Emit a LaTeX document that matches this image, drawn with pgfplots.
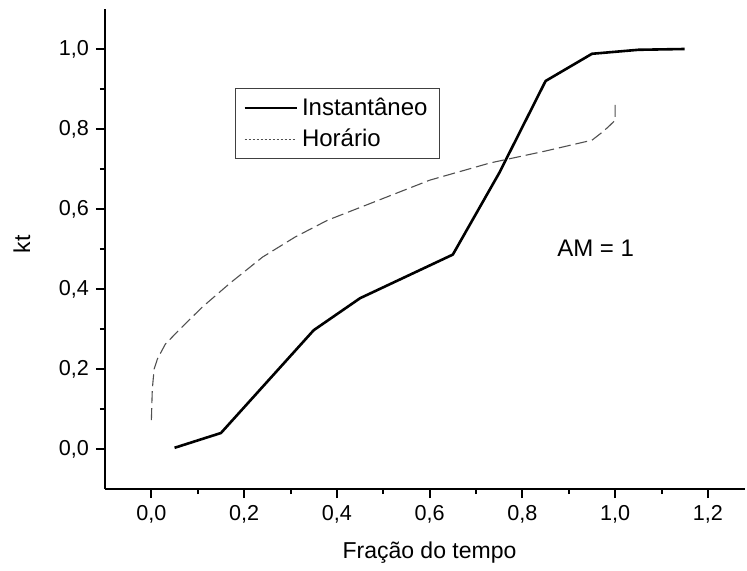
\documentclass[border=0pt]{standalone}
\usepackage{fontspec}
\setmainfont{Liberation Sans}
\usepackage{pgfplots}
\pgfplotsset{compat=1.18}

\definecolor{dashgray}{RGB}{80,80,80}

\begin{document}
\begin{tikzpicture}
\begin{axis}[
  scale only axis,
  width=320pt, height=240pt,
  xmin=-0.1, xmax=1.28,
  ymin=-0.1, ymax=1.1,
  axis x line*=bottom,
  axis y line*=left,
  axis line style={-, line width=1pt, black},
  xtick={0,0.2,0.4,0.6,0.8,1.0,1.2},
  ytick={0,0.2,0.4,0.6,0.8,1.0},
  minor x tick num=1,
  minor y tick num=1,
  tick align=outside,
  major tick length=4.5pt,
  minor tick length=2.5pt,
  every tick/.style={black, line width=1pt},
  tick label style={font=\fontsize{10.8}{13}\selectfont},
  /pgf/number format/.cd, assume math mode=true, use comma, fixed, fixed zerofill, precision=1,
  /pgfplots/.cd,
  xlabel={Fração do tempo},
  ylabel={kt},
  label style={font=\fontsize{11.5}{13}\selectfont},
  xlabel style={at={(axis description cs:0.507,-0.133)}, anchor=center},
  ylabel style={at={(axis description cs:-0.13,0.51)}, anchor=center, rotate=0},
  legend style={
    at={(axis description cs:0.203,0.835)}, anchor=north west,
    draw=black!75, line width=0.5pt,
    font=\fontsize{12}{14}\selectfont,
    inner xsep=4pt, inner ysep=2.5pt,
    row sep=1.5pt,
    cells={anchor=west},
  },
  legend image code/.code={\draw[#1] (0pt,0pt) -- (26pt,0pt);},
  clip=false,
]

% solid curve: instantaneous values
\addplot[black, line width=1.3pt, line join=round] coordinates {
  (0.05,0.003) (0.15,0.040) (0.35,0.297) (0.45,0.377) (0.65,0.486)
  (0.75,0.690) (0.85,0.920) (0.95,0.988) (1.05,0.998) (1.15,1.000)
};
\addlegendentry{Instantâneo}

% dashed curve: hourly values
\addplot[dashgray, line width=0.55pt, dash pattern=on 6pt off 2.5pt,
  legend image code/.code={\draw[dashgray, line width=0.5pt, dash pattern=on 1pt off 1pt] (0pt,0pt) -- (26pt,0pt);}]
  coordinates {
  (0.000,0.072) (0.002,0.150) (0.006,0.200) (0.013,0.225) (0.030,0.262)
  (0.060,0.298) (0.110,0.355) (0.170,0.415) (0.240,0.480) (0.310,0.530)
  (0.380,0.572) (0.490,0.622) (0.600,0.672) (0.730,0.715) (0.850,0.745)
  (0.950,0.772) (0.970,0.790) (0.985,0.805) (1.000,0.822) (1.000,0.870)
};
\addlegendentry{Horário}

\node[font=\fontsize{12}{14}\selectfont] at (axis cs:0.958,0.501) {AM = 1};

\coordinate (O) at (rel axis cs:0,0);
\end{axis}
\path (O) ++(-52.5pt,-39.5pt) rectangle ++(373.5pt,284pt);
\end{tikzpicture}
\end{document}
